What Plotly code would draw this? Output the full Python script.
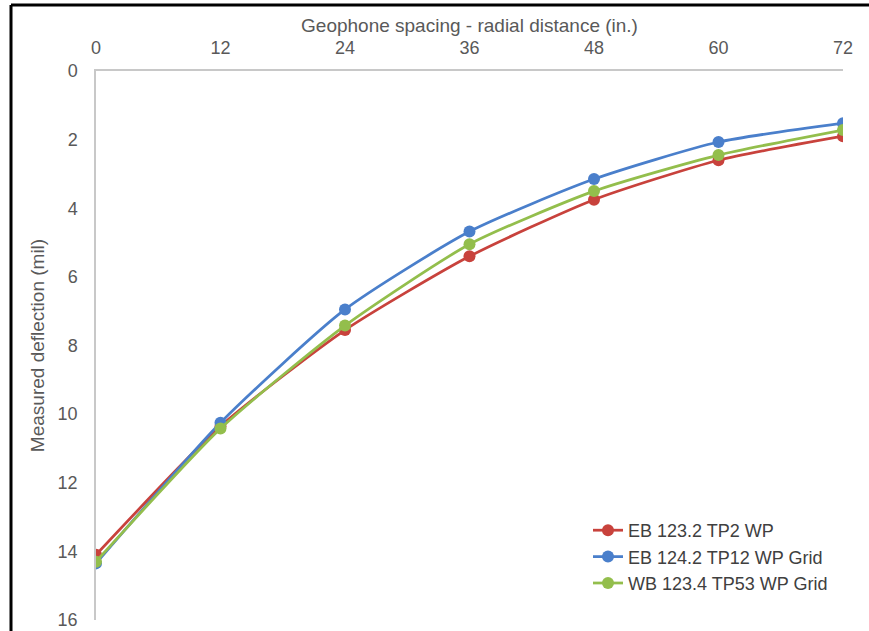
import plotly.graph_objects as go

spacing = [0, 12, 24, 36, 48, 60, 72]
eb1232 = [14.1, 10.35, 7.55, 5.4, 3.75, 2.6, 1.9]
eb1242 = [14.35, 10.25, 6.95, 4.68, 3.15, 2.07, 1.52]
wb1234 = [14.3, 10.42, 7.42, 5.05, 3.5, 2.45, 1.72]

names = ["EB 123.2 TP2 WP", "EB 124.2 TP12 WP Grid", "WB 123.4 TP53 WP Grid"]
colors = ["#C8423C", "#4A7FCB", "#93BE4C"]
series = [eb1232, eb1242, wb1234]

fig = go.Figure()
for n, c, s in zip(names, colors, series):
    fig.add_trace(go.Scatter(
        x=spacing, y=s, name=n, mode="lines+markers",
        line=dict(color=c, width=2.75, shape="spline", smoothing=0.6),
        marker=dict(color=c, size=12),
    ))

W, H = 869, 631
L, R, T, B = 96, 843, 71, 620
pw, ph = R - L, B - T

fig.update_layout(
    width=W, height=H,
    margin=dict(l=L, r=W - R, t=T, b=H - B),
    paper_bgcolor="white", plot_bgcolor="white",
    font=dict(family="Liberation Sans, Arial, sans-serif", color="#595959", size=18),
    showlegend=True,
    legend=dict(
        x=(588 - L) / pw, y=(B - 512) / ph, xanchor="left", yanchor="top",
        font=dict(size=18, color="#404040"), bgcolor="rgba(0,0,0,0)",
        itemwidth=30,
    ),
    xaxis=dict(
        side="top", range=[0, 72], tickvals=spacing, ticktext=[str(v) for v in spacing],
        showgrid=False, zeroline=False, showline=True, linecolor="#C8C8C8", linewidth=1.5,
        ticks="outside", ticklen=8, tickcolor="rgba(0,0,0,0)",
        title=dict(text="Geophone spacing - radial distance (in.)", font=dict(size=19), standoff=0),
    ),
    yaxis=dict(
        range=[16, 0], tickvals=[0, 2, 4, 6, 8, 10, 12, 14, 16],
        showgrid=False, zeroline=False, showline=True, linecolor="#C8C8C8", linewidth=1.5,
        ticks="outside", ticklen=13, tickcolor="rgba(0,0,0,0)",
        title=dict(text="Measured deflection (mil)", font=dict(size=19), standoff=8),
    ),
    shapes=[
        dict(type="line", xref="paper", yref="paper",
             x0=(11 - L) / pw, x1=(W + 5 - L) / pw, y0=(B - 5) / ph, y1=(B - 5) / ph,
             line=dict(color="black", width=3)),
        dict(type="line", xref="paper", yref="paper",
             x0=(11 - L) / pw, x1=(11 - L) / pw, y0=(B - 5) / ph, y1=(B - H - 5) / ph,
             line=dict(color="black", width=3)),
    ],
)
for ax in (fig.layout.xaxis, fig.layout.yaxis):
    ax.layer = "below traces"
fig.update_xaxes(automargin=False)
fig.update_yaxes(automargin=False)
fig.write_html("out.html", config={"displayModeBar": False},
               post_script="document.body.style.margin='0';document.body.style.overflow='hidden';")
